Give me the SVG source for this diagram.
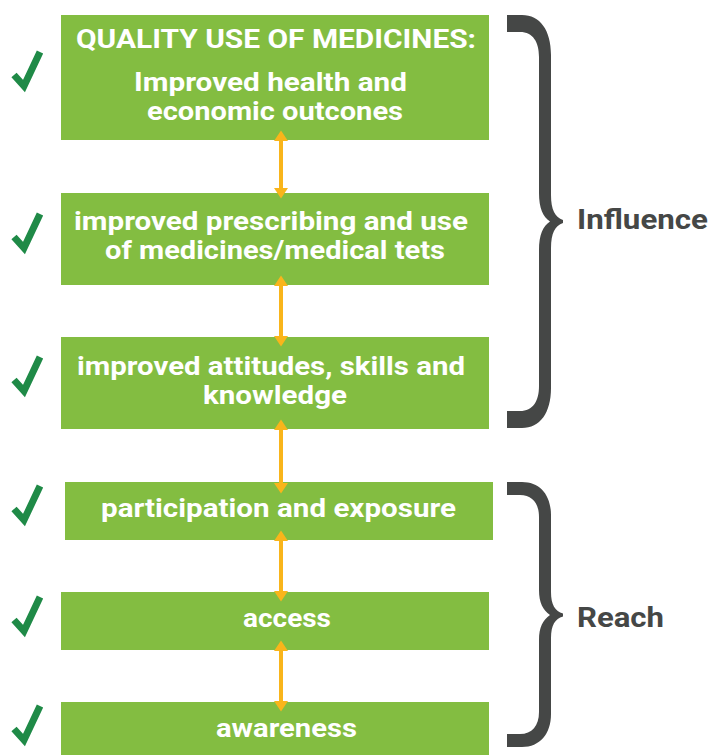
<svg xmlns="http://www.w3.org/2000/svg" width="712" height="755" viewBox="0 0 712 755">
<style>
.box{fill:#83bd41}
.t{font-family:Roboto,"Open Sans","Liberation Sans",sans-serif;font-weight:700;fill:#ffffff;font-size:25px}
.lbl{font-family:Roboto,"Open Sans","Liberation Sans",sans-serif;font-weight:700;fill:#454746;font-size:27px}
.chk{fill:none;stroke:#1f8a47;stroke-width:7;stroke-linejoin:miter}
.arr{stroke:#f9b51b;stroke-width:4;fill:none}
.brace{fill:#454746}
</style>
<defs>
<marker id="ah" markerUnits="userSpaceOnUse" markerWidth="11" markerHeight="14" viewBox="0 0 11 14" refX="0" refY="7" orient="auto-start-reverse">
<path d="M0,0 L10.5,7 L0,14 Z" fill="#f9b51b"/>
</marker>
</defs>
<g id="box1">
<rect class="box" x="61" y="15" width="428" height="125"/>
<text class="t" x="76" y="48" textLength="400" lengthAdjust="spacingAndGlyphs">QUALITY USE OF MEDICINES:</text>
<text class="t" x="134" y="91" textLength="273" lengthAdjust="spacingAndGlyphs">Improved health and</text>
<text class="t" x="147" y="120" textLength="256" lengthAdjust="spacingAndGlyphs">economic outcones</text>
</g>
<g id="box2">
<rect class="box" x="61" y="193" width="428" height="92"/>
<text class="t" x="74" y="230" textLength="394" lengthAdjust="spacingAndGlyphs">improved prescribing and use</text>
<text class="t" x="105" y="259" textLength="340" lengthAdjust="spacingAndGlyphs">of medicines/medical tets</text>
</g>
<g id="box3">
<rect class="box" x="61" y="337" width="428" height="92"/>
<text class="t" x="77" y="375" textLength="388" lengthAdjust="spacingAndGlyphs">improved attitudes, skills and</text>
<text class="t" x="203" y="404" textLength="144" lengthAdjust="spacingAndGlyphs">knowledge</text>
</g>
<g id="box4">
<rect class="box" x="65" y="482" width="428" height="58"/>
<text class="t" x="101" y="517" textLength="355" lengthAdjust="spacingAndGlyphs">participation and exposure</text>
</g>
<g id="box5">
<rect class="box" x="61" y="592" width="428" height="58"/>
<text class="t" x="243" y="627" textLength="88" lengthAdjust="spacingAndGlyphs">access</text>
</g>
<g id="box6">
<rect class="box" x="61" y="702" width="428" height="53"/>
<text class="t" x="216" y="737" textLength="141" lengthAdjust="spacingAndGlyphs">awareness</text>
</g>
<g id="connectors">
<line class="arr" x1="281" y1="141" x2="281" y2="188" marker-start="url(#ah)" marker-end="url(#ah)"/>
<line class="arr" x1="281" y1="286" x2="281" y2="336" marker-start="url(#ah)" marker-end="url(#ah)"/>
<line class="arr" x1="281" y1="430" x2="281" y2="483" marker-start="url(#ah)" marker-end="url(#ah)"/>
<line class="arr" x1="281" y1="541" x2="281" y2="591" marker-start="url(#ah)" marker-end="url(#ah)"/>
<line class="arr" x1="281" y1="651" x2="281" y2="701" marker-start="url(#ah)" marker-end="url(#ah)"/>
</g>
<g id="checks">
<polyline class="chk" points="14,75 24,86 40,52"/>
<polyline class="chk" points="14,237 24,248 40,214"/>
<polyline class="chk" points="14,380 24,391 40,357"/>
<polyline class="chk" points="14,509 24,520 40,486"/>
<polyline class="chk" points="14,620 24,631 40,597"/>
<polyline class="chk" points="14,729 24,740 40,706"/>
</g>
<g id="influence">
<path class="brace" d="M507 15 L522 15 C540 15 551 30 551 55 L551 195 C551 210 555 217 563 220 L563 223 C555 226 551 233 551 248 L551 388 C551 413 540 428 522 428 L507 428 L507 411 L520 411 C533 411 539 401 539 386 L539 250 C539 235 543 226 550 221.5 C543 217 539 208 539 193 L539 57 C539 42 533 32 520 32 L507 32 Z"/>
<text class="lbl" x="577" y="229" textLength="131" lengthAdjust="spacingAndGlyphs">Influence</text>
</g>
<g id="reach">
<path class="brace" d="M507 482 L522 482 C540 482 551 495 551 515 L551 592 C551 605 555 611 563 613.5 L563 616.5 C555 619 551 625 551 638 L551 714 C551 734 540 747 522 747 L507 747 L507 734 L520 734 C532 734 539 726 539 712 L539 640 C539 627 543 620 550 615 C543 610 539 603 539 590 L539 517 C539 503 532 495 520 495 L507 495 Z"/>
<text class="lbl" x="577" y="627" textLength="87" lengthAdjust="spacingAndGlyphs">Reach</text>
</g>
</svg>
